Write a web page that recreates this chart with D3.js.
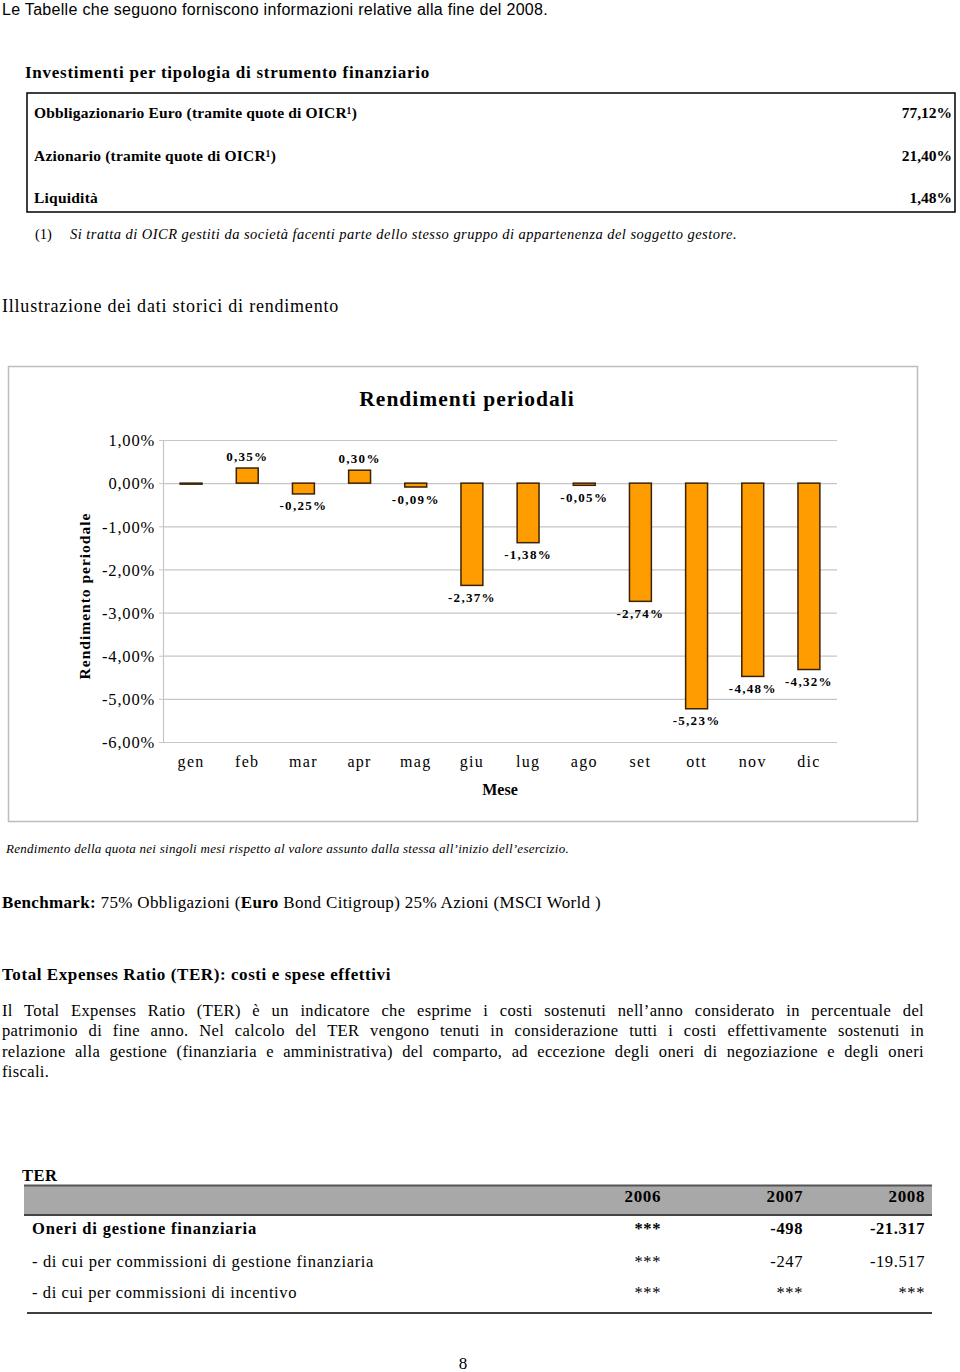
<!DOCTYPE html>
<html>
<head>
<meta charset="utf-8">
<script src="https://cdn.jsdelivr.net/npm/d3@7"></script>
<style>
  html, body { margin: 0; padding: 0; background: #fff; }
  svg { display: block; }
</style>
</head>
<body>
<svg id="page" width="960" height="1372"></svg>
<script>
// ---------------- DATA ----------------
const introText = "Le Tabelle che seguono forniscono informazioni relative alla fine del 2008.";
const allocationTitle = "Investimenti per tipologia di strumento finanziario";
const allocationLabels = ["Obbligazionario Euro (tramite quote di OICR¹)", "Azionario (tramite quote di OICR¹)", "Liquidità"];
const allocationValues = ["77,12%", "21,40%", "1,48%"];
const footnoteText = "Si tratta di OICR gestiti da società facenti parte dello stesso gruppo di appartenenza del soggetto gestore.";
const historyTitle = "Illustrazione dei dati storici di rendimento";

const chartTitle = "Rendimenti periodali";
const months = ["gen", "feb", "mar", "apr", "mag", "giu", "lug", "ago", "set", "ott", "nov", "dic"];
const returns = [0.00, 0.35, -0.25, 0.30, -0.09, -2.37, -1.38, -0.05, -2.74, -5.23, -4.48, -4.32];
const yTicks = [1, 0, -1, -2, -3, -4, -5, -6];
const yAxisTitle = "Rendimento periodale";
const xAxisTitle = "Mese";
const chartCaption = "Rendimento della quota nei singoli mesi rispetto al valore assunto dalla stessa all\u2019inizio dell\u2019esercizio.";

const terHeading = "Total Expenses Ratio (TER): costi e spese effettivi";
const terParagraphLines = [
  "Il Total Expenses Ratio (TER) è un indicatore che esprime i costi sostenuti nell\u2019anno considerato in percentuale del",
  "patrimonio di fine anno. Nel calcolo del TER vengono tenuti in considerazione tutti i costi effettivamente sostenuti in",
  "relazione alla gestione (finanziaria e amministrativa) del comparto, ad eccezione degli oneri di negoziazione e degli oneri",
  "fiscali."
];
const terYears = ["2006", "2007", "2008"];
const terRowLabels = ["Oneri di gestione finanziaria", "- di cui per commissioni di gestione finanziaria", "- di cui per commissioni di incentivo"];
const ter2006 = ["***", "***", "***"];
const ter2007 = ["-498", "-247", "***"];
const ter2008 = ["-21.317", "-19.517", "***"];
const terRowBold = [true, false, false];

// ---------------- DRAW ----------------
const svg = d3.select("#page");
const SERIF = "'Liberation Serif', 'Times New Roman', serif";
const SANS = "'Liberation Sans', Arial, sans-serif";

function txt(x, y, s, opt = {}) {
  const t = svg.append("text")
    .attr("x", x).attr("y", y)
    .attr("font-family", opt.family || SERIF)
    .attr("font-size", opt.size || 16)
    .attr("font-weight", opt.bold ? "bold" : "normal")
    .attr("font-style", opt.italic ? "italic" : "normal")
    .attr("fill", opt.fill || "#000")
    .attr("text-anchor", opt.anchor || "start")
    .text(s);
  if (opt.ls) t.attr("letter-spacing", opt.ls);
  if (opt.width) fitWidth(t, opt.width);
  return t;
}
// widen a line of text (Cambria in the original is wider than Times) by letter spacing
function fitWidth(t, w) {
  const natural = t.node().getComputedTextLength();
  const n = t.text().length;
  const ls = Math.max(0, (w - natural) / n);
  t.attr("letter-spacing", ls + "px");
}

// intro
txt(2, 15, introText, { family: SANS, size: 16, width: 546 });

// allocation table
txt(25, 78, allocationTitle, { bold: true, size: 17, width: 405 });
svg.append("rect").attr("x", 27).attr("y", 93).attr("width", 928).attr("height", 119)
  .attr("fill", "none").attr("stroke", "#000").attr("stroke-width", 1.5);
const rowY = d3.scalePoint().domain(allocationLabels).range([118, 203]);
const allocWidths = [323, 242, 64];
allocationLabels.forEach((l, i) => {
  txt(34, rowY(l), l, { bold: true, size: 15.5, width: allocWidths[i] });
  txt(952, rowY(l), allocationValues[i], { bold: true, size: 15.5, anchor: "end" });
});
txt(35, 239, "(1)", { size: 14.5 });
txt(70, 239, footnoteText, { size: 14.5, italic: true, width: 667 });

txt(2, 312, historyTitle, { size: 18, width: 337 });

// ---------------- CHART ----------------
svg.append("rect").attr("x", 8.5).attr("y", 366.5).attr("width", 909).attr("height", 455)
  .attr("fill", "#fff").attr("stroke", "#bdbdbd").attr("stroke-width", 1.5);

const plotLeft = 163, plotRight = 837;
const x = d3.scaleBand().domain(months).range([plotLeft, plotRight]).paddingInner(0.61).paddingOuter(0.305);
const y = d3.scaleLinear().domain([-6, 1]).range([742, 440]);
const fmt = v => d3.format(".2f")(v).replace("\u2212", "-").replace(".", ",") + "%";
const barData = months.map((m, i) => ({ month: m, value: returns[i] }));

// gridlines
svg.append("g").attr("transform", `translate(${plotLeft},0)`)
  .call(d3.axisLeft(y).tickValues(yTicks).tickSize(-(plotRight - plotLeft)).tickFormat(""))
  .call(g => g.select(".domain").remove())
  .call(g => g.selectAll("line").attr("stroke", "#c6c6c6").attr("stroke-width", 1.2));

// y axis
svg.append("g").attr("transform", `translate(${plotLeft},0)`)
  .call(d3.axisLeft(y).tickValues(yTicks).tickSize(4).tickPadding(4).tickFormat(fmt))
  .call(g => g.select(".domain").attr("stroke", "#c6c6c6").attr("stroke-width", 1.2))
  .call(g => g.selectAll("line").attr("stroke", "#c6c6c6"))
  .call(g => g.selectAll("text").attr("font-family", SERIF).attr("font-size", 16.5)
    .attr("letter-spacing", "0.8px").attr("fill", "#000").attr("dy", "0.35em"));

// x axis labels
svg.append("g").attr("transform", `translate(0,${y(-6)})`)
  .call(d3.axisBottom(x).tickSize(0).tickPadding(14))
  .call(g => g.select(".domain").remove())
  .call(g => g.selectAll("text").attr("font-family", SERIF).attr("font-size", 16)
    .attr("letter-spacing", "1.3px").attr("fill", "#000"));

// bars
svg.append("g").selectAll("rect").data(barData).join("rect")
  .attr("x", d => x(d.month))
  .attr("width", x.bandwidth())
  .attr("y", d => y(Math.max(0, d.value)))
  .attr("height", d => Math.max(1, Math.abs(y(d.value) - y(0))))
  .attr("fill", "#ff9c00")
  .attr("stroke", "#3a2206")
  .attr("stroke-width", 1.5);

// value labels
svg.append("g").selectAll("text").data(barData.filter(d => d.value !== 0)).join("text")
  .attr("x", d => x(d.month) + x.bandwidth() / 2)
  .attr("y", d => d.value > 0 ? y(d.value) - 12 : y(d.value) + 12)
  .attr("dy", "0.35em")
  .attr("text-anchor", "middle")
  .attr("font-family", SERIF).attr("font-size", 13).attr("font-weight", "bold")
  .attr("letter-spacing", "1.3px")
  .text(d => fmt(d.value));

// titles
txt((plotLeft + plotRight) / 2 - 33, 406, chartTitle, { bold: true, size: 21.5, anchor: "middle", ls: "1px" });
txt((plotLeft + plotRight) / 2, 795, xAxisTitle, { bold: true, size: 16, anchor: "middle" });
svg.append("text")
  .attr("transform", `translate(90,${(y(-6) + y(1)) / 2 + 5}) rotate(-90)`)
  .attr("text-anchor", "middle")
  .attr("font-family", SERIF).attr("font-size", 15.5).attr("font-weight", "bold")
  .attr("letter-spacing", "1px")
  .text(yAxisTitle);

txt(6, 853, chartCaption, { size: 13, italic: true, width: 563 });

// Benchmark
const bm = svg.append("text").attr("x", 2).attr("y", 908)
  .attr("font-family", SERIF).attr("font-size", 17);
[["Benchmark:", true], [" 75% Obbligazioni (", false], ["Euro", true], [" Bond Citigroup) 25% Azioni (MSCI World )", false]]
  .forEach(([s, b]) => bm.append("tspan").attr("font-weight", b ? "bold" : "normal").text(s));
fitWidth(bm, 599);

// TER section
txt(2, 980, terHeading, { bold: true, size: 17, width: 389 });
const paraY = d3.scaleLinear().domain([0, 3]).range([1016, 1077]);
terParagraphLines.forEach((line, i) => {
  const t = txt(2, paraY(i), line, { size: 16.5, ls: "0.35px" });
  if (i < terParagraphLines.length - 1) {
    const natural = t.node().getComputedTextLength();
    const spaces = (line.match(/ /g) || []).length;
    const extra = (922 - natural) / spaces;
    t.attr("word-spacing", extra + "px");
  }
});

// TER table
txt(22, 1181, "TER", { bold: true, size: 16.5, ls: "0.5px" });
svg.append("rect").attr("x", 24).attr("y", 1185).attr("width", 908).attr("height", 30)
  .attr("fill", "#a8a8a8");
svg.append("line").attr("x1", 24).attr("x2", 932).attr("y1", 1185.5).attr("y2", 1185.5)
  .attr("stroke", "#555").attr("stroke-width", 2);
svg.append("line").attr("x1", 24).attr("x2", 932).attr("y1", 1215).attr("y2", 1215)
  .attr("stroke", "#444").attr("stroke-width", 2);
const colX = { "2006": 661, "2007": 803, "2008": 925 };
terYears.forEach(yr => txt(colX[yr], 1202, yr, { bold: true, size: 17, anchor: "end", ls: "0.6px" }));
const terRowY = d3.scalePoint().domain(terRowLabels).range([1234, 1299]);
const terCols = [ter2006, ter2007, ter2008];
const terWidths = [225, 342, 265];
terRowLabels.forEach((l, i) => {
  const yy = terRowY(l) - (i === 2 ? 1 : 0);
  txt(32, yy, l, { bold: terRowBold[i], size: 16.5, width: terWidths[i] });
  terYears.forEach((yr, j) => {
    txt(colX[yr], yy, terCols[j][i], { bold: terRowBold[i], size: 16.5, anchor: "end", ls: "0.6px" });
  });
});
svg.append("line").attr("x1", 27).attr("x2", 932).attr("y1", 1313).attr("y2", 1313)
  .attr("stroke", "#000").attr("stroke-width", 1.5);

txt(463, 1369, "8", { size: 17, anchor: "middle" });
</script>
</body>
</html>
